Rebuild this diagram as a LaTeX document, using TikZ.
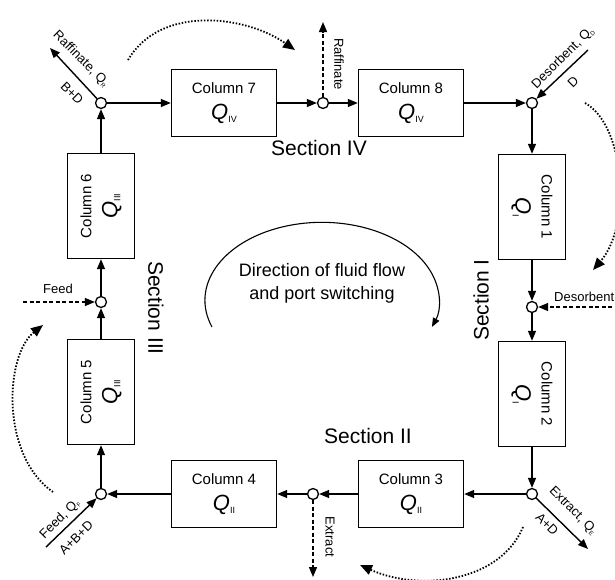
\documentclass[tikz,border=0pt]{standalone}
\usepackage{fontspec}
\setmainfont{Liberation Sans}
\usepackage{tikz}
\usetikzlibrary{arrows.meta,positioning,calc}

\newcommand{\flowq}[1]{{\fontsize{22}{22}\selectfont\itshape Q}\raisebox{-3pt}{\fontsize{9}{9}\selectfont #1}}
\newcommand{\portq}[1]{Q\raisebox{-2pt}{\fontsize{6}{6}\selectfont #1}}

\tikzset{
    colbox/.style={draw, line width=1.4pt, minimum width=105pt, minimum height=67pt, inner sep=0pt, align=center, font=\fontsize{15}{26}\selectfont},
    junc/.style={draw, circle, line width=1.3pt, fill=white, minimum size=11pt, inner sep=0pt},
    flow/.style={line width=1.4pt, -{Triangle[length=10pt,width=8pt]}},
    port/.style={flow, dash pattern=on 4pt off 2.5pt},
    switch/.style={line width=1.8pt, dash pattern=on 1.5pt off 1.7pt, -{Triangle[length=12pt,width=10pt]}},
    portlbl/.style={font=\fontsize{13}{13}\selectfont, inner sep=1pt},
    seclbl/.style={font=\fontsize{21}{21}\selectfont}
}

\begin{document}
\begin{tikzpicture}[x=1pt, y=-1pt]
    \useasboundingbox (0,0) rectangle (615,579);

    % Columns
    \node[colbox] (col7) at (224,103) {Column 7\\\flowq{IV}};
    \node[colbox] (col8) at (411,103) {Column 8\\\flowq{IV}};
    \node[colbox, rotate=-90] (col1) at (532,207) {Column 1\\\flowq{I}};
    \node[colbox, rotate=-90] (col2) at (532,394) {Column 2\\\flowq{I}};
    \node[colbox] (col3) at (411,494) {Column 3\\\flowq{II}};
    \node[colbox] (col4) at (224,494) {Column 4\\\flowq{II}};
    \node[colbox, rotate=90] (col5) at (101,392) {Column 5\\\flowq{III}};
    \node[colbox, rotate=90] (col6) at (101,206) {Column 6\\\flowq{III}};

    % Ports between the columns
    \node[junc] (j67) at (101,103) {};
    \node[junc] (j78) at (323,103) {};
    \node[junc] (j81) at (532,103) {};
    \node[junc] (j12) at (532,307) {};
    \node[junc] (j23) at (532,494) {};
    \node[junc] (j34) at (313,494) {};
    \node[junc] (j45) at (101,494) {};
    \node[junc] (j56) at (101,302) {};

    % Fluid flow round the loop
    \draw[flow] (j67) -- (col7);
    \draw[flow] (col7) -- (j78);
    \draw[flow] (j78) -- (col8);
    \draw[flow] (col8) -- (j81);
    \draw[flow] (j81) -- (col1);
    \draw[flow] (col1) -- (j12);
    \draw[flow] (j12) -- (col2);
    \draw[flow] (col2) -- (j23);
    \draw[flow] (j23) -- (col3);
    \draw[flow] (col3) -- (j34);
    \draw[flow] (j34) -- (col4);
    \draw[flow] (col4) -- (j45);
    \draw[flow] (j45) -- (col5);
    \draw[flow] (col5) -- (j56);
    \draw[flow] (j56) -- (col6);
    \draw[flow] (col6) -- (j67);

    % Active inlets and outlets
    \coordinate (raffEnd) at (50,48);
    \draw[flow] (j67) -- (raffEnd);
    \node[portlbl, rotate=-45] (raffLbl) at (81,59) {Raffinate, \portq{R}};
    \node[portlbl, rotate=-45] (raffMix) at (72,93) {B+D};

    \coordinate (desStart) at (588,50);
    \draw[flow] (desStart) -- (j81);
    \node[portlbl, rotate=45] (desLbl) at (563,58) {Desorbent, \portq{D}};
    \node[portlbl, rotate=45] (desMix) at (573,82) {D};

    \coordinate (extrEnd) at (588,549);
    \draw[flow] (j23) -- (extrEnd);
    \node[portlbl, rotate=-45] (extrLbl) at (573,511) {Extract, \portq{E}};
    \node[portlbl, rotate=-45] (extrMix) at (547,524) {A+D};

    \coordinate (feedStart) at (46,547);
    \draw[flow] (feedStart) -- (j45);
    \node[portlbl, rotate=45] (feedLbl) at (60,519) {Feed, \portq{F}};
    \node[portlbl, rotate=45] (feedMix) at (76,538) {A+B+D};

    % Next port positions (dashed)
    \coordinate (raff2End) at (323,22);
    \draw[port] (j78) -- (raff2End);
    \node[portlbl, rotate=-90] (raff2Lbl) at (339,64) {Raffinate};

    \coordinate (des2Start) at (625,307);
    \draw[port] (des2Start) -- (j12);
    \node[portlbl, anchor=south west] (des2Lbl) at (553,303) {Desorbent};

    \coordinate (extr2End) at (313,577);
    \draw[port] (j34) -- (extr2End);
    \node[portlbl, rotate=-90] (extr2Lbl) at (330,537) {Extract};

    \coordinate (feed2Start) at (23,302);
    \draw[port] (feed2Start) -- (j56);
    \node[portlbl] (feed2Lbl) at (58,289) {Feed};

    % Port switching
    \coordinate (swTopA) at (128,60);   \coordinate (swTopB) at (295,50);
    \coordinate (swRgtA) at (585,103);  \coordinate (swRgtB) at (593,270);
    \coordinate (swBotA) at (523,527);  \coordinate (swBotB) at (360,565);
    \coordinate (swLftA) at (53,492);   \coordinate (swLftB) at (43,325);
    \draw[switch] (swTopA) .. controls (160,5) and (245,15) .. (swTopB);
    \draw[switch] (swRgtA) .. controls (625,125) and (632,225) .. (swRgtB);
    \draw[switch] (swBotA) .. controls (500,582) and (420,592) .. (swBotB);
    \draw[switch] (swLftA) .. controls (0,455) and (5,355) .. (swLftB);

    % Sections
    \node[seclbl] (sec4) at (319,148) {Section IV};
    \node[seclbl, rotate=90] (sec1) at (481,300) {Section I};
    \node[seclbl] (sec2) at (368,436) {Section II};
    \node[seclbl, rotate=-90] (sec3) at (156,308) {Section III};

    % Direction of flow
    \coordinate (dirStart) at (212,327);
    \draw[line width=1.1pt, -{Triangle[length=9pt,width=7pt]}] (dirStart) arc[start angle=160, end angle=380, x radius=117, y radius=78];
    \node[align=center, font=\fontsize{18}{23}\selectfont] (dirLbl) at (322,283) {Direction of fluid flow\\and port switching};
\end{tikzpicture}
\end{document}
